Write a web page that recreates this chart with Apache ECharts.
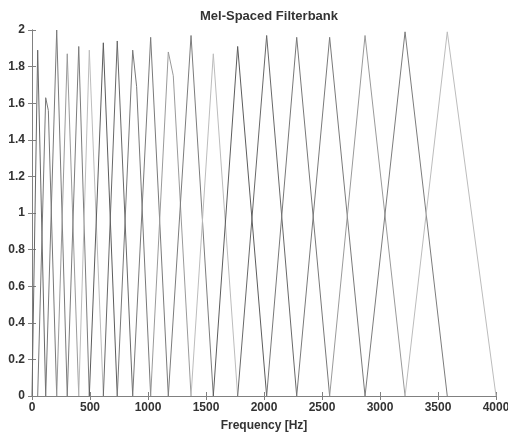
<!DOCTYPE html>
<html>
<head>
<meta charset="utf-8">
<script src="https://cdn.jsdelivr.net/npm/echarts@6/dist/echarts.min.js"></script>
<style>
html,body{margin:0;padding:0;background:#fff;}
#chart{width:508px;height:433px;}
</style>
</head>
<body>
<div id="chart"></div>
<script>
// Filter centre frequencies (Hz) and peak heights
var centers = [49, 118, 213, 304, 403, 494, 615, 735, 868, 1023, 1175, 1371, 1563, 1773, 2023, 2282, 2566, 2871, 3216, 3580];
var peaks   = [1.89, 1.63, 2.0, 1.87, 1.91, 1.89, 1.93, 1.94, 1.89, 1.96, 1.88, 1.97, 1.87, 1.91, 1.97, 1.96, 1.96, 1.97, 1.99, 1.99];
// Extra sample points near a few rounded tops: [filter index, Hz, value]
var shoulders = [[1, 141, 1.56], [8, 902, 1.69], [10, 1218, 1.75]];
var lowEdge = 0, highEdge = 4000;
var xTickLabels = ['0', '500', '1000', '1500', '2000', '2500', '3000', '3500', '4000'];
var yTickLabels = ['0', '0.2', '0.4', '0.6', '0.8', '1', '1.2', '1.4', '1.6', '1.8', '2'];

var palette = ['#686868', '#787878', '#7a7a7a', '#9a9a9a', '#7c7c7c', '#bcbcbc', '#5c5c5c'];

var series = [];
for (var i = 0; i < centers.length; i++) {
  var left = i === 0 ? lowEdge : centers[i - 1];
  var right = i === centers.length - 1 ? highEdge : centers[i + 1];
  var pts = [[left, 0], [centers[i], peaks[i]]];
  shoulders.forEach(function (s) { if (s[0] === i) pts.push([s[1], s[2]]); });
  pts.push([right, 0]);
  series.push({
    type: 'line',
    data: pts,
    showSymbol: false,
    symbol: 'none',
    lineStyle: { width: 1, color: palette[i % palette.length] },
    xAxisIndex: 0,
    yAxisIndex: 0,
    silent: true
  });
}

var labelFont = { fontFamily: 'Liberation Sans', fontWeight: 'bold', fontSize: 12, color: '#333' };
var axisColor = '#808080';

var chart = echarts.init(document.getElementById('chart'), null, { renderer: 'canvas' });
chart.setOption({
  animation: false,
  backgroundColor: '#fff',
  title: {
    text: 'Mel-Spaced Filterbank',
    left: 264, textAlign: 'center', top: 5,
    textStyle: { fontFamily: 'Liberation Sans', fontWeight: 'bold', fontSize: 13, color: '#333' }
  },
  grid: { left: 32, right: 12, top: 30, bottom: 37, containLabel: false, outerBoundsMode: 'none' },
  xAxis: [{
    type: 'value', min: 0, max: 4000, interval: 500,
    name: 'Frequency [Hz]', nameLocation: 'middle', nameGap: 24,
    nameTextStyle: { fontFamily: 'Liberation Sans', fontWeight: 'bold', fontSize: 12, color: '#333' },
    axisLine: { show: true, lineStyle: { color: axisColor, width: 1 } },
    axisTick: { show: true, inside: true, length: 4, lineStyle: { color: axisColor } },
    axisLabel: Object.assign({ margin: 6, formatter: function (v) { return xTickLabels[Math.round(v / 500)]; } }, labelFont),
    splitLine: { show: false }
  }, {
    type: 'value', min: 0, max: 4000, interval: 500, position: 'top',
    axisLine: { show: true, lineStyle: { color: axisColor, width: 1 } },
    axisTick: { show: true, inside: true, length: 4, lineStyle: { color: axisColor } },
    axisLabel: { show: false },
    splitLine: { show: false }
  }],
  yAxis: [{
    type: 'value', min: 0, max: 2, interval: 0.2,
    axisLine: { show: true, lineStyle: { color: axisColor, width: 1 } },
    axisTick: { show: true, inside: true, length: 4, lineStyle: { color: axisColor } },
    axisLabel: Object.assign({ margin: 7, formatter: function (v) { return yTickLabels[Math.round(v / 0.2)]; } }, labelFont),
    splitLine: { show: false }
  }, {
    type: 'value', min: 0, max: 2, interval: 0.2, position: 'right',
    axisLine: { show: true, lineStyle: { color: axisColor, width: 1 } },
    axisTick: { show: true, inside: true, length: 4, lineStyle: { color: axisColor } },
    axisLabel: { show: false },
    splitLine: { show: false }
  }],
  series: series
});
</script>
</body>
</html>
